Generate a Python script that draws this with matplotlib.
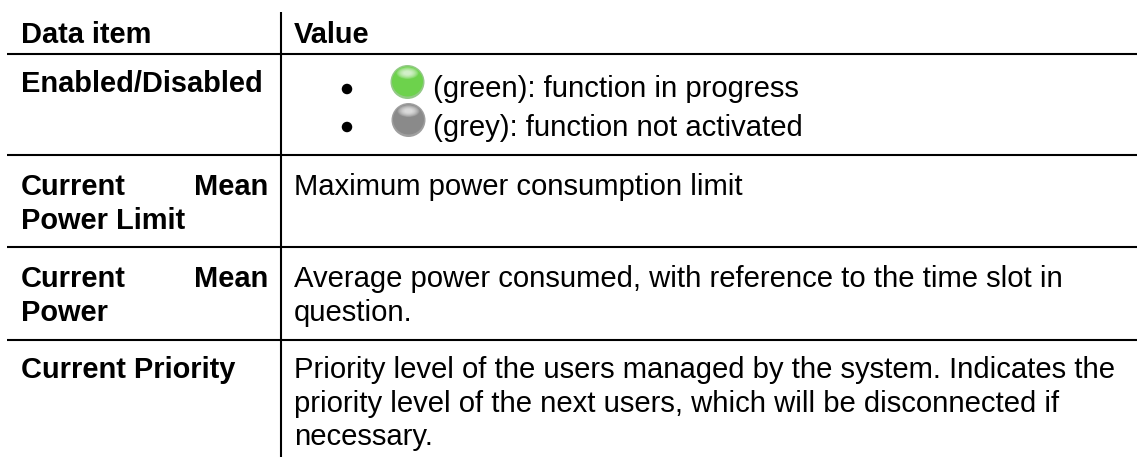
import matplotlib
matplotlib.use("Agg")
import matplotlib.pyplot as plt
from matplotlib.patches import Ellipse

plt.rcParams['font.family'] = ['Liberation Sans', 'DejaVu Sans']

header = ["Data item", "Value"]
row_lines = [53.5, 155, 247, 339.5]
items = [
    ("Enabled/Disabled", 92),
    ("Power Limit", 229),
    ("Power", 321),
    ("Current Priority", 378),
]
justified = [("Current", "Mean", 195), ("Current", "Mean", 287)]
values = [
    ("Maximum power consumption limit", 195),
    ("Average power consumed, with reference to the time slot in", 287),
    ("question.", 321),
    ("Priority level of the users managed by the system. Indicates the", 378),
    ("priority level of the next users, which will be disconnected if", 412),
    ("necessary.", 445),
]
status = [("(green): function in progress", 97, 407.5, 82, 89, "#6dd24c", "#4ba535"),
          ("(grey): function not activated", 135.5, 408.5, 120, 127, "#8a8a8a", "#5f5f5f")]


def draw_light(ax, x, y, fill, edge):
    ax.add_patch(Ellipse((x, y), 34, 34, color=edge, alpha=0.6, lw=0, zorder=2))
    ax.add_patch(Ellipse((x, y - 0.5), 31, 30, color=fill, lw=0, zorder=3))
    # soft highlight near the top of the light
    for i in range(8):
        ax.add_patch(Ellipse((x, y - 9), 22 - i * 2, 12 - i * 1.2, color="white",
                             alpha=0.14, lw=0, zorder=4))


fig = plt.figure(figsize=(11.37, 4.57), dpi=100)
ax = fig.add_axes([0, 0, 1, 1])
ax.set_xlim(0, 1137)
ax.set_ylim(457, 0)
ax.axis("off")

ax.plot([281, 281], [12, 457], color="black", lw=1.5, solid_capstyle="butt")
for y in row_lines:
    ax.plot([7, 1137], [y, y], color="black", lw=1.5, solid_capstyle="butt")

bold_fs = 20.9
fs = 21.1
ax.text(21, 43, header[0], fontsize=bold_fs, fontweight="bold", va="baseline")
ax.text(294, 43, header[1], fontsize=bold_fs, fontweight="bold", va="baseline")
for label, y in items:
    ax.text(21, y, label, fontsize=bold_fs, fontweight="bold", va="baseline")
for left, right, y in justified:
    ax.text(21, y, left, fontsize=bold_fs, fontweight="bold", va="baseline")
    ax.text(268, y, right, fontsize=bold_fs, fontweight="bold", va="baseline", ha="right")
for label, y in values:
    ax.text(294, y, label, fontsize=fs, va="baseline")

for label, y, light_x, light_y, bullet_y, fill, edge in status:
    ax.add_patch(Ellipse((347, bullet_y), 10.5, 10.5, color="black", lw=0))
    draw_light(ax, light_x, light_y, fill, edge)
    ax.text(433, y, label, fontsize=fs, va="baseline")

fig.savefig("out.png", dpi=100)
